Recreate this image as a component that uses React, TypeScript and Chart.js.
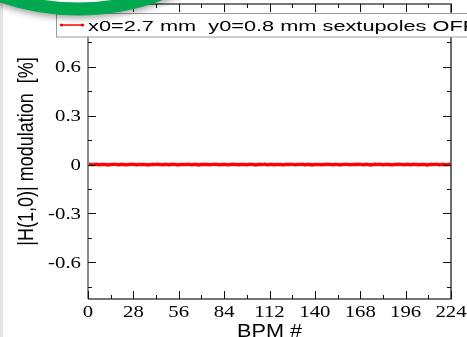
import { useEffect, useRef } from "react";
import { Chart, registerables } from "chart.js";

Chart.register(...registerables);

// |H(1,0)| modulation per BPM (0 … 224), in %
const modulation: number[] = [
  0.000, 0.001, 0.000, -0.001, 0.001, 0.002, 0.000, -0.001, 0.000, 0.001, 0.001, 0.000, -0.002, -0.001, 0.000,
  0.001, 0.002, 0.001, 0.000, -0.001, 0.000, 0.001, 0.000, -0.001, -0.001, 0.000, 0.001, 0.002, 0.001, 0.000,
  -0.001, 0.000, 0.000, 0.001, 0.001, 0.000, -0.001, -0.002, -0.001, 0.000, 0.001, 0.000, 0.001, 0.002, 0.000,
  0.000, -0.001, 0.000, 0.001, 0.000, -0.001, 0.000, 0.002, 0.001, 0.000, -0.001, -0.001, 0.000, 0.001, 0.001,
  0.000, 0.001, 0.002, 0.000, -0.001, 0.000, 0.001, 0.000, -0.002, -0.001, 0.000, 0.001, 0.000, 0.001, 0.000,
  -0.001, 0.000, 0.001, 0.002, 0.001, 0.000, -0.001, 0.000, 0.000, 0.001, 0.000, -0.001, -0.001, 0.000, 0.002,
  0.001, 0.000, 0.000, -0.001, 0.000, 0.001, 0.001, 0.000, -0.001, 0.000, 0.002, 0.001, 0.000, -0.002, -0.001,
  0.000, 0.001, 0.000, 0.001, 0.002, 0.000, -0.001, 0.000, 0.001, 0.000, -0.001, 0.000, 0.001, 0.001, 0.000,
  -0.001, -0.001, 0.000, 0.001, 0.000, 0.002, 0.001, 0.000, -0.001, 0.000, 0.000, 0.001, 0.002, 0.000, -0.001,
  0.000, 0.001, 0.000, -0.002, -0.001, 0.000, 0.001, 0.001, 0.000, -0.001, 0.000, 0.001, 0.000, 0.002, 0.001,
  0.000, -0.001, 0.000, 0.001, 0.000, -0.001, -0.001, 0.000, 0.001, 0.002, 0.001, 0.000, -0.001, 0.000, 0.000,
  0.001, 0.000, 0.002, 0.001, 0.000, -0.001, 0.000, 0.001, 0.000, -0.002, -0.001, 0.000, 0.001, 0.000, 0.001,
  0.002, 0.000, -0.001, 0.000, 0.001, 0.001, 0.000, -0.001, -0.001, 0.000, 0.001, 0.000, 0.002, 0.001, 0.000,
  -0.001, 0.000, 0.001, 0.000, -0.001, 0.000, 0.002, 0.001, 0.000, -0.001, 0.000, 0.001, 0.001, 0.000, -0.002,
  -0.001, 0.000, 0.001, 0.000, 0.001, 0.002, 0.000, -0.001, 0.000, 0.001, 0.000, -0.001, 0.000, 0.001, 0.000,
];

const xMajorTicks = [0, 28, 56, 84, 112, 140, 168, 196, 224];
const xMinorTicks = [14, 42, 70, 98, 126, 154, 182, 210];
const yMajorTicks = [-0.6, -0.3, 0, 0.3, 0.6];
const yMinorTicks = [-0.75, -0.45, -0.15, 0.15, 0.45, 0.75];

const legendLabel = "x0=2.7 mm  y0=0.8 mm sextupoles OFF";
const yTitle = "|H(1,0)| modulation  [%]";
const xTitle = "BPM #";

const W = 467;
const H = 337;

function stretchedText(
  ctx: CanvasRenderingContext2D,
  text: string,
  x: number,
  y: number,
  sx: number,
  align: CanvasTextAlign
) {
  ctx.save();
  ctx.translate(x, y);
  ctx.scale(sx, 1);
  ctx.textAlign = align;
  ctx.textBaseline = "alphabetic";
  ctx.fillText(text, 0, 0);
  ctx.restore();
}

const framePlugin = {
  id: "gracePlotFrame",
  beforeDraw(chart: any) {
    const ctx: CanvasRenderingContext2D = chart.ctx;
    ctx.save();
    ctx.fillStyle = "#ffffff";
    ctx.fillRect(0, 0, W, H);
    ctx.fillStyle = "#e4e4e4";
    ctx.fillRect(0, 0, 3, H);
    ctx.restore();
  },
  afterDatasetsDraw(chart: any) {
    const ctx: CanvasRenderingContext2D = chart.ctx;
    const { left, right, top, bottom } = chart.chartArea;
    const xs = chart.scales.x;
    const ys = chart.scales.y;
    ctx.save();

    // axis frame
    ctx.strokeStyle = "#4a4a4a";
    ctx.lineWidth = 1.6;
    ctx.beginPath();
    ctx.moveTo(left, bottom);
    ctx.lineTo(right, bottom);
    ctx.lineTo(right, top);
    ctx.lineTo(left, top);
    ctx.stroke();
    ctx.strokeStyle = "#8a8a8a";
    ctx.lineWidth = 2;
    ctx.beginPath();
    ctx.moveTo(left, top);
    ctx.lineTo(left, bottom);
    ctx.stroke();

    // inward ticks on all four sides
    ctx.strokeStyle = "#111111";
    ctx.lineWidth = 1;
    const major = 8;
    const minor = 4;
    const xTick = (v: number, len: number) => {
      const px = Math.round(xs.getPixelForValue(v)) + 0.5;
      ctx.beginPath();
      ctx.moveTo(px, bottom);
      ctx.lineTo(px, bottom - len);
      ctx.moveTo(px, top);
      ctx.lineTo(px, top + len);
      ctx.stroke();
    };
    const yTick = (v: number, len: number) => {
      const py = Math.round(ys.getPixelForValue(v)) + 0.5;
      ctx.beginPath();
      ctx.moveTo(left, py);
      ctx.lineTo(left + len, py);
      ctx.moveTo(right, py);
      ctx.lineTo(right - len, py);
      ctx.stroke();
    };
    xMajorTicks.forEach((v) => xTick(v, major));
    xMinorTicks.forEach((v) => xTick(v, minor));
    yMajorTicks.forEach((v) => yTick(v, major));
    yMinorTicks.forEach((v) => yTick(v, minor));

    // tick labels
    ctx.fillStyle = "#000000";
    ctx.font = "16px 'Liberation Serif', serif";
    yMajorTicks.forEach((v) => {
      const label = v === 0 ? "0" : v.toFixed(1);
      stretchedText(ctx, label, left - 7, ys.getPixelForValue(v) + 5.5, 1.3, "right");
    });
    xMajorTicks.forEach((v) => {
      stretchedText(ctx, String(v), xs.getPixelForValue(v), bottom + 18, 1.3, "center");
    });

    // axis titles
    ctx.font = "19px 'Liberation Sans', Arial, sans-serif";
    stretchedText(ctx, xTitle, (left + right) / 2, H - 0.5, 1.14, "center");

    ctx.save();
    ctx.font = "18px 'Liberation Sans', Arial, sans-serif";
    ctx.translate(32.5, (top + bottom) / 2);
    ctx.scale(1.2, 1);
    ctx.rotate(-Math.PI / 2);
    ctx.textAlign = "center";
    ctx.textBaseline = "alphabetic";
    ctx.fillText(yTitle, 0, 0);
    ctx.restore();

    // legend box
    ctx.fillStyle = "#ffffff";
    ctx.fillRect(56.5, 13.5, 420, 23.5);
    ctx.strokeStyle = "#9a9a9a";
    ctx.lineWidth = 1;
    ctx.strokeRect(56.5, 13.5, 420, 23.5);
    ctx.strokeStyle = "#ff0000";
    ctx.lineWidth = 1.5;
    ctx.beginPath();
    ctx.moveTo(61, 25);
    ctx.lineTo(83, 25);
    ctx.stroke();
    ctx.fillStyle = "#dd0000";
    [61.5, 82.5].forEach((px) => {
      ctx.beginPath();
      ctx.arc(px, 25, 1.6, 0, Math.PI * 2);
      ctx.fill();
    });
    ctx.fillStyle = "#000000";
    ctx.font = "15px 'Liberation Sans', Arial, sans-serif";
    stretchedText(ctx, legendLabel, 88, 30.7, 1.45, "left");

    ctx.restore();
  },
  afterDraw(chart: any) {
    // green highlight ring across the upper-left corner
    const ctx: CanvasRenderingContext2D = chart.ctx;
    ctx.save();
    ctx.shadowColor = "rgba(0,0,0,0.35)";
    ctx.shadowBlur = 6;
    ctx.shadowOffsetY = 3;
    ctx.strokeStyle = "#00a94f";
    ctx.lineWidth = 13;
    ctx.beginPath();
    ctx.arc(78, -225, 234, 0, Math.PI * 2);
    ctx.stroke();
    ctx.restore();
  },
};

export default function App() {
  const canvasRef = useRef<HTMLCanvasElement | null>(null);

  useEffect(() => {
    const canvas = canvasRef.current;
    if (!canvas) return;
    const points = modulation.map((v, i) => ({ x: i, y: v }));
    const chart = new Chart(canvas, {
      type: "line",
      data: {
        datasets: [
          {
            label: legendLabel,
            data: points,
            borderColor: "rgba(255, 20, 20, 0.9)",
            borderWidth: 3.5,
            pointRadius: 1.5,
            pointStyle: "circle",
            pointBackgroundColor: "#ff0000",
            pointBorderWidth: 0,
            tension: 0,
          },
        ],
      },
      options: {
        responsive: false,
        animation: false,
        devicePixelRatio: 1,
        layout: { padding: { left: 88, right: 16, top: 3, bottom: 38 } },
        plugins: { legend: { display: false }, tooltip: { enabled: false } },
        scales: {
          x: { type: "linear", min: 0, max: 224, display: false },
          y: { type: "linear", min: -0.825, max: 0.985, display: false },
        },
      },
      plugins: [framePlugin],
    });
    return () => chart.destroy();
  }, []);

  return (
    <div style={{ position: "absolute", left: 0, top: 0, width: W, height: H }}>
      <canvas ref={canvasRef} width={W} height={H} style={{ display: "block" }} />
    </div>
  );
}
